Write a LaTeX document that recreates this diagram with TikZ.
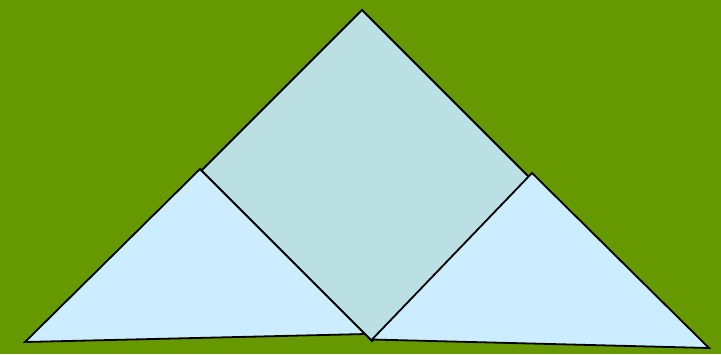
\documentclass[tikz,border=0pt]{standalone}
\definecolor{bg}{HTML}{669900}
\definecolor{sq}{HTML}{BBE0E3}
\definecolor{tri}{HTML}{CCECFF}
\begin{document}
\begin{tikzpicture}[x=1pt,y=-1pt,
  outl/.style={draw=black,line width=1.8pt,line join=miter}]
\fill[bg] (0,0) rectangle (721,354);
\useasboundingbox (0,0) rectangle (721,354);
\coordinate (st) at (362,10);
\coordinate (sr) at (532.5,180.5);
\coordinate (sb) at (372,341);
\coordinate (sl) at (201.5,170.5);
\coordinate (la) at (200,169);
\coordinate (ll) at (25,342);
\coordinate (lr) at (366,334);
\coordinate (ra) at (532,173);
\coordinate (rl) at (372,339.5);
\coordinate (rr) at (709,348);
\filldraw[outl,fill=tri] (la) -- (ll) -- (lr) -- cycle;
\filldraw[outl,fill=sq] (st) -- (sr) -- (sb) -- (sl) -- cycle;
\filldraw[outl,fill=tri] (ra) -- (rl) -- (rr) -- cycle;
\end{tikzpicture}
\end{document}
